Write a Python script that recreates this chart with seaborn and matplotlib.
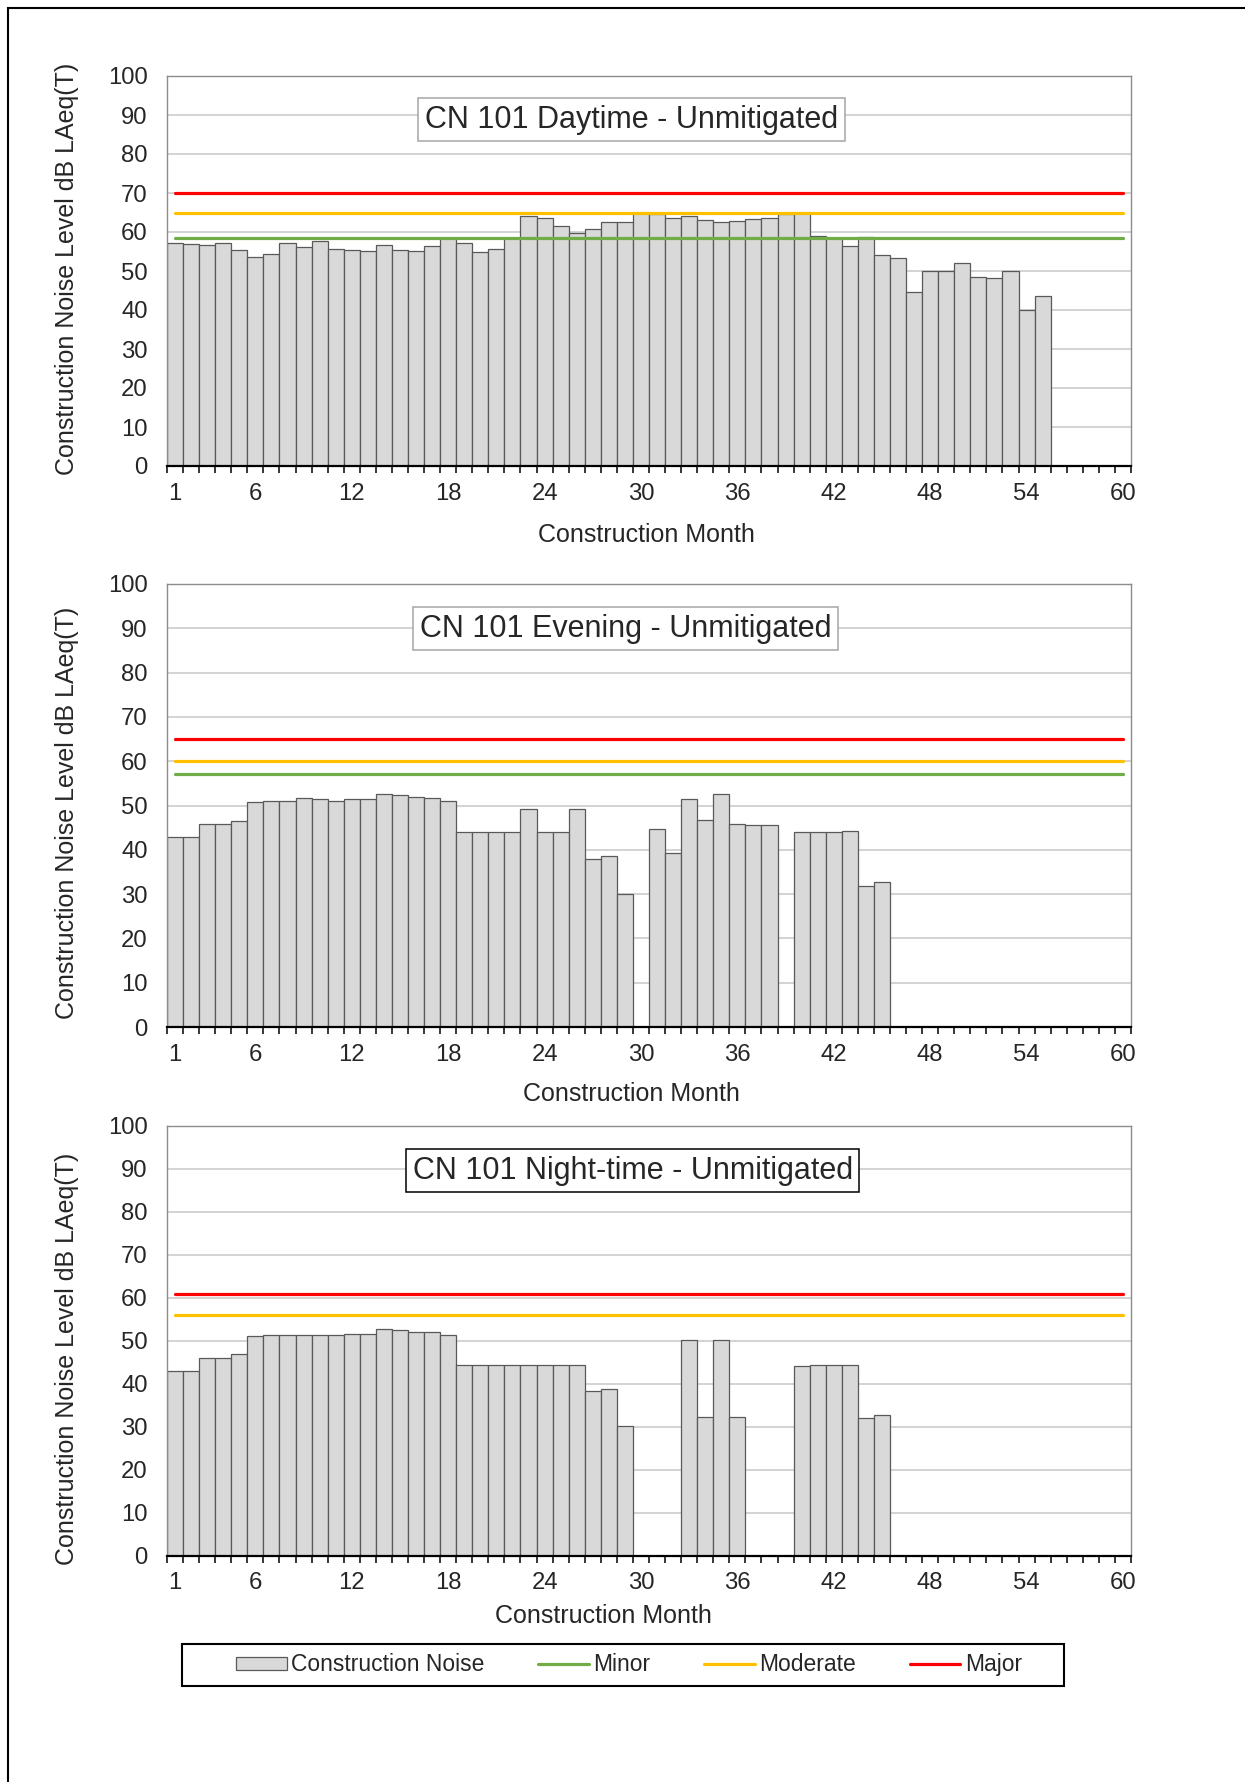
import numpy as np
import pandas as pd
import matplotlib
matplotlib.use("Agg")
import matplotlib.pyplot as plt
import seaborn as sns
from matplotlib.patches import Rectangle, Patch
from matplotlib.lines import Line2D

nan = np.nan
months = list(range(1, 61))
tick_months = [1, 6, 12, 18, 24, 30, 36, 42, 48, 54, 60]

day_noise = [57.2, 57.0, 56.7, 57.2, 55.3, 53.6, 54.4, 57.2, 56.2, 57.6,
             55.7, 55.4, 55.1, 56.7, 55.5, 55.1, 56.3, 58.4, 57.2, 54.9,
             55.6, 58.4, 64.0, 63.5, 61.6, 59.8, 60.8, 62.5, 62.5, 64.9,
             64.7, 63.5, 64.0, 63.0, 62.6, 62.8, 63.3, 63.5, 64.6, 64.9,
             59.0, 58.4, 56.3, 58.8, 54.0, 53.3, 44.5, 50.1, 50.1, 52.1,
             48.5, 48.3, 50.1, 39.9, 43.6, nan, nan, nan, nan, nan]

evening_noise = [43.0, 43.0, 45.9, 45.9, 46.5, 50.8, 51.1, 51.1, 51.7, 51.5,
                 51.1, 51.4, 51.4, 52.7, 52.3, 51.9, 51.7, 51.1, 44.1, 44.1,
                 44.1, 44.1, 49.3, 44.1, 44.1, 49.3, 38.0, 38.6, 30.1, nan,
                 44.8, 39.2, 51.5, 46.8, 52.5, 45.8, 45.6, 45.5, nan, 44.0,
                 44.1, 44.1, 44.2, 31.8, 32.7, nan, nan, nan, nan, nan,
                 nan, nan, nan, nan, nan, nan, nan, nan, nan, nan]

night_noise = [43.0, 43.0, 46.1, 46.1, 46.8, 51.1, 51.3, 51.3, 51.3, 51.3,
               51.3, 51.6, 51.6, 52.8, 52.6, 52.0, 52.0, 51.3, 44.3, 44.3,
               44.3, 44.3, 44.3, 44.3, 44.3, 44.3, 38.2, 38.8, 30.2, nan,
               nan, nan, 50.1, 32.2, 50.1, 32.2, nan, nan, nan, 44.1,
               44.3, 44.3, 44.4, 32.0, 32.8, nan, nan, nan, nan, nan,
               nan, nan, nan, nan, nan, nan, nan, nan, nan, nan]

day_thresholds = {"Minor": 58.4, "Moderate": 65, "Major": 70}
evening_thresholds = {"Minor": 57, "Moderate": 60, "Major": 65}
night_thresholds = {"Moderate": 56, "Major": 61}

titles = ["CN 101 Daytime - Unmitigated", "CN 101 Evening - Unmitigated",
          "CN 101 Night-time - Unmitigated"]
series_label = "Construction Noise"
xlabel = "Construction Month"
ylabel = "Construction Noise Level dB LAeq(T)"

line_colors = {"Minor": "#70AD47", "Moderate": "#FFC000", "Major": "#FF0000"}
bar_color = "#D9D9D9"
bar_edge = "#595959"

sns.set_style("white")
plt.rcParams["font.family"] = ["Liberation Sans", "DejaVu Sans"]

W, H = 1245, 1782
fig = plt.figure(figsize=(W / 100, H / 100), dpi=100)

# axes boxes in pixels: (left, right, top, bottom)
boxes = [(167, 1131, 76, 466), (167, 1131, 584, 1027), (167, 1131, 1126, 1555.5)]
title_pos = [(0.482, 0.888), (0.476, 0.899), (0.483, 0.896)]
title_edge = ["#A6A6A6", "#A6A6A6", "#000000"]
xlabel_pos = [(0.497, -0.145), (0.482, -0.125), (0.453, -0.113)]
ylabel_pos = [(-0.091, 0.505), (-0.091, 0.483), (-0.091, 0.457)]

all_noise = [day_noise, evening_noise, night_noise]
all_thr = [day_thresholds, evening_thresholds, night_thresholds]

for i in range(3):
    l, r, t, b = boxes[i]
    ax = fig.add_axes([l / W, 1 - b / H, (r - l) / W, (b - t) / H])
    df = pd.DataFrame({"month": months, "level": all_noise[i]}).dropna()
    sns.barplot(data=df, x="month", y="level", native_scale=True, width=1.0,
                color=bar_color, saturation=1, edgecolor=bar_edge, linewidth=0.9,
                errorbar=None, ax=ax, zorder=2)
    for name in ["Minor", "Moderate", "Major"]:
        if name in all_thr[i]:
            ldf = pd.DataFrame({"month": months, "level": all_thr[i][name]})
            sns.lineplot(data=ldf, x="month", y="level", color=line_colors[name],
                         linewidth=2.3, ax=ax, zorder=3)
    ax.set_xlim(0.5, 60.5)
    ax.set_ylim(0, 100)
    ax.set_yticks(range(0, 101, 10))
    ax.set_xticks(tick_months)
    ax.set_xticklabels([str(m) for m in tick_months])
    ax.set_xticks(np.arange(0.5, 61, 1), minor=True)
    ax.tick_params(axis="x", which="major", length=0, pad=12, labelsize=17.2)
    ax.tick_params(axis="x", which="minor", length=5, width=1.1, color="black",
                   direction="out", bottom=True)
    ax.tick_params(axis="y", length=0, pad=14, labelsize=17.2)
    ax.yaxis.grid(True, color="#D0D0D0", linewidth=1.3)
    ax.xaxis.grid(False)
    ax.set_axisbelow(True)
    for s in ["left", "top", "right"]:
        ax.spines[s].set_color("#8C8C8C")
        ax.spines[s].set_linewidth(1.0)
    ax.spines["bottom"].set_color("black")
    ax.spines["bottom"].set_linewidth(1.6)
    ax.spines["bottom"].set_zorder(5)
    ax.set_xlabel(xlabel, fontsize=18)
    ax.set_ylabel(ylabel, fontsize=18)
    ax.xaxis.set_label_coords(*xlabel_pos[i])
    ax.yaxis.set_label_coords(*ylabel_pos[i])
    ax.text(title_pos[i][0], title_pos[i][1], titles[i], transform=ax.transAxes,
            ha="center", va="center", fontsize=22, zorder=6,
            bbox=dict(boxstyle="square,pad=0.22", fc="white", ec=title_edge[i], lw=1.1))

handles = [Patch(facecolor=bar_color, edgecolor=bar_edge, linewidth=0.9)] + \
          [Line2D([0], [0], color=line_colors[n], linewidth=2.3) for n in ["Minor", "Moderate", "Major"]]
labels = [series_label, "Minor", "Moderate", "Major"]
fig.legend(handles, labels, loc="center", bbox_to_anchor=(0.5054, 0.0657), ncol=4,
           frameon=False, fontsize=16.5, handlelength=2.2, handleheight=0.5,
           handletextpad=0.2, columnspacing=2.35)
fig.add_artist(Rectangle((182 / W, 1 - 1686 / H), 882 / W, 42 / H, transform=fig.transFigure,
                         fill=False, ec="black", lw=1.5))
fig.add_artist(Rectangle((8 / W, -0.1), 1.2, 1.1 - 8 / H, transform=fig.transFigure,
                         fill=False, ec="black", lw=1.5))

fig.savefig("out.png", dpi=100)
